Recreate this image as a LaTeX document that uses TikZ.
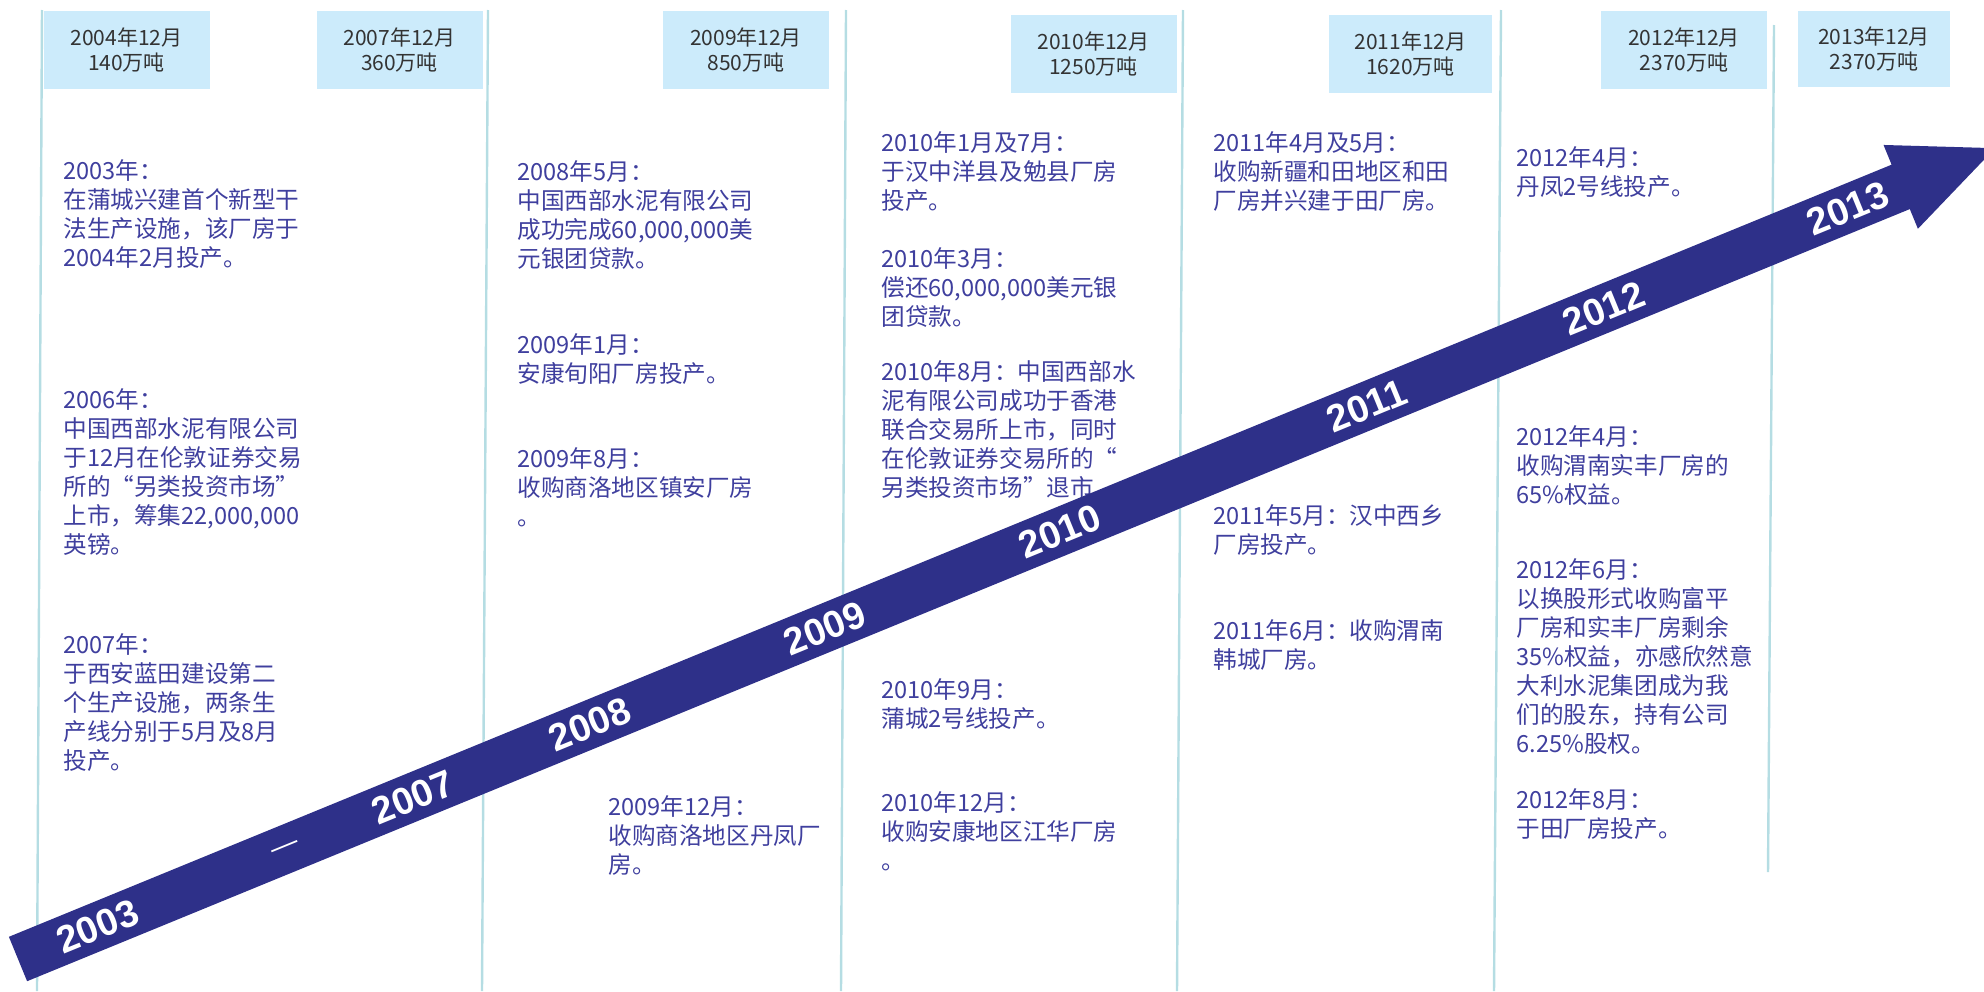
\documentclass[tikz,border=0pt]{standalone}
\usepackage{fontspec}
\setmainfont{Noto Sans CJK SC}
\newfontfamily\yearfont{Liberation Sans}
\definecolor{bandblue}{HTML}{2E3089}
\definecolor{notetext}{HTML}{3F3F9E}
\definecolor{capfill}{HTML}{CCEBFB}
\definecolor{captext}{HTML}{333333}
\definecolor{gridline}{HTML}{B5DDE3}
\begin{document}
\begin{tikzpicture}[x=0.5pt,y=-0.5pt,
    capbox/.style={fill=capfill,text=captext,align=center,inner sep=0pt,
      minimum width=83pt,minimum height=39pt,
      font=\fontsize{10.5pt}{12.5pt}\selectfont},
    note/.style={anchor=north west,align=left,inner sep=0pt,text=notetext,
      font=\fontsize{11.8pt}{14.5pt}\selectfont},
    yearlabel/.style={text=white,rotate=22.3,inner sep=0pt,
      font=\yearfont\bfseries\fontsize{19pt}{19pt}\selectfont},
    divider/.style={draw=gridline,line width=1.2pt}]
  \useasboundingbox (0,0) rectangle (1984,991);
  \draw[divider] (42,10) -- (37,991);
  \draw[divider] (488,10) -- (482,991);
  \draw[divider] (846,10) -- (841,991);
  \draw[divider] (1183,10) -- (1177,991);
  \draw[divider] (1501,10) -- (1494,991);
  \draw[divider] (1774,25) -- (1768,872);

  \node[capbox] (cap2004) at (126.5,50) {2004年12月\\140万吨};
  \node[capbox] (cap2007) at (399.5,50) {2007年12月\\360万吨};
  \node[capbox] (cap2009) at (746,50) {2009年12月\\850万吨};
  \node[capbox] (cap2010) at (1093.5,53.5) {2010年12月\\1250万吨};
  \node[capbox,minimum width=81.5pt] (cap2011) at (1410.5,53.5) {2011年12月\\1620万吨};
  \node[capbox] (cap2012) at (1684,50) {2012年12月\\2370万吨};
  \node[capbox,minimum width=76pt,minimum height=38pt] (cap2013) at (1874,49) {2013年12月\\2370万吨};

  \node[note] (n2003) at (63,159) {2003年：\\在蒲城兴建首个新型干\\法生产设施，该厂房于\\2004年2月投产。};
  \node[note] (n2006) at (63,388) {2006年：\\中国西部水泥有限公司\\于12月在伦敦证券交易\\所的“另类投资市场”\\上市，筹集22,000,000\\英镑。};
  \node[note] (n2007) at (63,633) {2007年：\\于西安蓝田建设第二\\个生产设施，两条生\\产线分别于5月及8月\\投产。};

  \node[note] (n2008a) at (517,160) {2008年5月：\\中国西部水泥有限公司\\成功完成60,000,000美\\元银团贷款。};
  \node[note] (n2009a) at (517,333) {2009年1月：\\安康旬阳厂房投产。};
  \node[note] (n2009b) at (517,447) {2009年8月：\\收购商洛地区镇安厂房\\。};
  \node[note] (n2009c) at (608,795) {2009年12月：\\收购商洛地区丹凤厂\\房。};

  \node[note] (n2010a) at (881,131) {2010年1月及7月：\\于汉中洋县及勉县厂房\\投产。};
  \node[note] (n2010b) at (881,247) {2010年3月：\\偿还60,000,000美元银\\团贷款。};
  \node[note] (n2010c) at (881,360) {2010年8月：中国西部水\\泥有限公司成功于香港\\联合交易所上市，同时\\在伦敦证券交易所的“\\另类投资市场”退市};
  \node[note] (n2010d) at (881,678) {2010年9月：\\蒲城2号线投产。};
  \node[note] (n2010e) at (881,791) {2010年12月：\\收购安康地区江华厂房\\。};

  \node[note] (n2011a) at (1213,131) {2011年4月及5月：\\收购新疆和田地区和田\\厂房并兴建于田厂房。};
  \node[note] (n2011b) at (1213,504) {2011年5月：汉中西乡\\厂房投产。};
  \node[note] (n2011c) at (1213,619) {2011年6月：收购渭南\\韩城厂房。};

  \node[note] (n2012a) at (1516,146) {2012年4月：\\丹凤2号线投产。};
  \node[note] (n2012b) at (1516,425) {2012年4月：\\收购渭南实丰厂房的\\65\%权益。};
  \node[note] (n2012c) at (1516,558) {2012年6月：\\以换股形式收购富平\\厂房和实丰厂房剩余\\35\%权益，亦感欣然意\\大利水泥集团成为我\\们的股东，持有公司\\6.25\%股权。};
  \node[note] (n2012d) at (1516,788) {2012年8月：\\于田厂房投产。};

  \begin{scope}[shift={(18,959)},rotate=22.3]
    \fill[bandblue] (0,-24) -- (2035,-24) -- (2035,-45.3) -- (2137,0)
      -- (2035,45.3) -- (2035,24) -- (0,24) -- cycle;
    \node[yearlabel] (y2003) at (86,0) {2003};
    \node[yearlabel,font=\yearfont\fontsize{14pt}{14pt}\selectfont] (ydash) at (290,0) {—};
    \node[yearlabel] (y2007) at (427,0) {2007};
    \node[yearlabel] (y2008) at (618,0) {2008};
    \node[yearlabel] (y2009) at (872,0) {2009};
    \node[yearlabel] (y2010) at (1126,0) {2010};
    \node[yearlabel] (y2011) at (1458,0) {2011};
    \node[yearlabel] (y2012) at (1714,0) {2012};
    \node[yearlabel] (y2013) at (1978,0) {2013};
  \end{scope}
\end{tikzpicture}
\end{document}
